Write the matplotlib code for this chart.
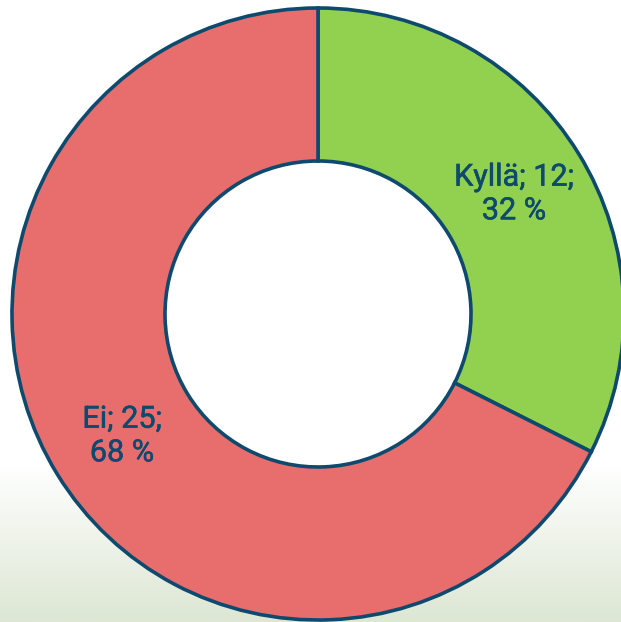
import matplotlib
matplotlib.use("Agg")
import matplotlib.pyplot as plt
import matplotlib.patheffects as pe
import numpy as np
from matplotlib.colors import LinearSegmentedColormap

labels = ["Kyllä", "Ei"]
counts = [12, 25]
colors = ["#92d050", "#e86e6e"]

EDGE = "#0d4a6e"
TEXT = "#0d4a70"

fig = plt.figure(figsize=(6.21, 6.22), dpi=100)

# faint green gradient along the bottom of the background
bg = fig.add_axes([0, 0, 1, 1])
bg.axis("off")
grad = np.linspace(0, 1, 300).reshape(-1, 1)
cmap = LinearSegmentedColormap.from_list("bg", [(0, "#dde7d4"), (0.25, "#ffffff"), (1, "#ffffff")])
bg.imshow(grad, aspect="auto", cmap=cmap, origin="lower", extent=[0, 1, 0, 1])

ax = fig.add_axes([0, 0, 1, 1])
ax.patch.set_alpha(0)
total = sum(counts)
wedges, _ = ax.pie(
    counts, colors=colors, startangle=90, counterclock=False,
    center=(318, 308), radius=306,
    wedgeprops=dict(width=153, edgecolor=EDGE, linewidth=2.6),
)
ax.set_xlim(0, 621)
ax.set_ylim(0, 622)
ax.set_aspect("equal")
ax.axis("off")

label_pos = [(514, 428), (122, 186)]
for lab, c, (x, y) in zip(labels, counts, label_pos):
    pct = round(100 * c / total)
    ax.text(x, y, f"{lab}; {c};\n{pct} %", fontsize=22, color=TEXT,
            family="Roboto", ha="center", va="center", linespacing=1.2,
            path_effects=[pe.withStroke(linewidth=0.4, foreground=TEXT)])

fig.savefig("out.png", dpi=100)
